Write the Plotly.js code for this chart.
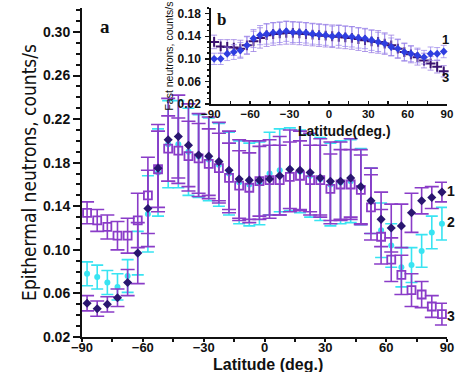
<!DOCTYPE html>
<html>
<head>
<meta charset="utf-8">
<script src="https://cdn.plot.ly/plotly-3.0.1.min.js"></script>
<style>html,body{margin:0;padding:0;background:#fff;}#chart{width:455px;height:372px;}</style>
</head>
<body>
<div id="chart"></div>
<script>
// Latitude bin centres (deg.)
const latitude = [-87.5,-82.5,-77.5,-72.5,-67.5,-62.5,-57.5,-52.5,-47.5,-42.5,-37.5,-32.5,-27.5,-22.5,-17.5,-12.5,-7.5,-2.5,
                  2.5,7.5,12.5,17.5,22.5,27.5,32.5,37.5,42.5,47.5,52.5,57.5,62.5,67.5,72.5,77.5,82.5,87.5];

// Panel a: epithermal neutrons, counts/s
const epi1 = [0.051,0.046,0.050,0.056,0.070,0.097,0.138,0.175,0.201,0.204,0.196,0.187,0.186,0.181,0.173,0.165,0.164,0.164,
              0.165,0.168,0.174,0.173,0.171,0.166,0.163,0.163,0.166,0.158,0.145,0.128,0.120,0.122,0.134,0.145,0.148,0.153];
const epi1Err = [0.007,0.007,0.007,0.008,0.012,0.028,0.035,0.040,0.038,0.038,0.038,0.038,0.036,0.036,0.036,0.036,0.036,0.036,
                 0.036,0.036,0.036,0.036,0.036,0.036,0.036,0.036,0.036,0.034,0.030,0.025,0.022,0.020,0.018,0.012,0.010,0.009];
const epi2 = [0.078,0.075,0.070,0.066,0.076,0.097,0.133,0.171,0.197,0.197,0.190,0.186,0.183,0.178,0.170,0.162,0.160,0.161,
              0.170,0.173,0.174,0.172,0.168,0.165,0.160,0.162,0.163,0.158,0.145,0.118,0.104,0.084,0.086,0.099,0.116,0.124];
const epi2Err = [0.011,0.011,0.011,0.012,0.015,0.020,0.035,0.040,0.040,0.040,0.040,0.038,0.038,0.038,0.038,0.038,0.038,0.038,
                 0.038,0.038,0.038,0.038,0.038,0.038,0.038,0.038,0.038,0.035,0.030,0.025,0.020,0.018,0.016,0.015,0.015,0.015];
const epi3 = [0.134,0.127,0.121,0.113,0.113,0.127,0.150,0.174,0.193,0.191,0.186,0.184,0.179,0.175,0.166,0.159,0.157,0.163,
              0.164,0.164,0.167,0.168,0.164,0.164,0.156,0.160,0.160,0.155,0.139,0.112,0.091,0.077,0.063,0.059,0.048,0.041];
const epi3Err = [0.010,0.010,0.011,0.013,0.016,0.025,0.035,0.035,0.030,0.030,0.032,0.032,0.032,0.032,0.032,0.032,0.032,0.032,
                 0.032,0.032,0.032,0.032,0.032,0.032,0.032,0.032,0.032,0.032,0.030,0.025,0.020,0.018,0.015,0.012,0.010,0.010];

// Panel b: fast neutrons, counts/s
const fast1 = [0.100,0.100,0.109,0.112,0.115,0.124,0.136,0.142,0.144,0.146,0.147,0.149,0.147,0.147,0.146,0.144,0.143,0.142,
               0.140,0.142,0.140,0.139,0.137,0.136,0.133,0.130,0.127,0.121,0.118,0.112,0.109,0.106,0.103,0.109,0.109,0.113];
const fast1Err = [0.010,0.010,0.012,0.013,0.014,0.015,0.016,0.017,0.018,0.018,0.018,0.018,0.018,0.018,0.018,0.018,0.018,0.018,
                  0.018,0.018,0.018,0.018,0.018,0.018,0.018,0.017,0.017,0.016,0.016,0.015,0.014,0.013,0.012,0.012,0.011,0.011];
const fast3 = [0.130,0.122,0.121,0.120,0.118,0.124,0.131,0.137,0.142,0.144,0.145,0.146,0.146,0.145,0.144,0.143,0.142,0.141,
               0.140,0.139,0.138,0.137,0.135,0.133,0.131,0.130,0.127,0.124,0.118,0.112,0.108,0.103,0.097,0.092,0.086,0.078];
const fast3Err = [0.012,0.012,0.013,0.014,0.015,0.016,0.018,0.018,0.020,0.020,0.020,0.020,0.020,0.020,0.020,0.020,0.020,0.020,
                  0.020,0.020,0.020,0.020,0.020,0.020,0.020,0.020,0.019,0.018,0.017,0.016,0.015,0.014,0.013,0.012,0.011,0.010];

const seriesLabels = ['1','2','3'];

const FONT = 'Liberation Sans, Arial, Helvetica, sans-serif';
const PURPLE = '#8a3cc8';
const NAVY = '#2a1670';
const CYAN = '#38e4f2';

function errY(arr, color, w, th){ return {type:'data', array:arr, visible:true, color:color, thickness:th, width:w}; }

const traces = [
  {x: latitude, y: epi2, type:'scatter', mode:'markers', xaxis:'x', yaxis:'y',
   marker:{symbol:'circle', size:6, color:CYAN}, error_y: errY(epi2Err, CYAN, 6, 1.6), showlegend:false, cliponaxis:false},
  {x: latitude, y: epi3, type:'scatter', mode:'markers', xaxis:'x', yaxis:'y',
   marker:{symbol:'square-open', size:8, color:PURPLE, line:{width:1.8, color:PURPLE}}, error_y: errY(epi3Err, PURPLE, 7, 1.6), showlegend:false, cliponaxis:false},
  {x: latitude, y: epi1, type:'scatter', mode:'markers', xaxis:'x', yaxis:'y',
   marker:{symbol:'diamond', size:7, color:NAVY}, error_y: errY(epi1Err, PURPLE, 7, 1.6), showlegend:false, cliponaxis:false},
  {x: latitude, y: fast3, type:'scatter', mode:'markers', xaxis:'x2', yaxis:'y2',
   marker:{symbol:'cross-thin-open', size:7, color:'#3a1270', line:{width:2, color:'#3a1270'}}, error_y: errY(fast3Err, 'rgba(150,120,225,0.75)', 3, 1), showlegend:false, cliponaxis:false},
  {x: latitude, y: fast1, type:'scatter', mode:'markers', xaxis:'x2', yaxis:'y2',
   marker:{symbol:'diamond', size:6, color:'#2f3ee0'}, error_y: errY(fast1Err, 'rgba(150,130,235,0.7)', 3, 1), showlegend:false, cliponaxis:false}
];

const layout = {
  width: 455, height: 372,
  margin: {l: 82, r: 8, t: 8, b: 35},
  paper_bgcolor: '#fff', plot_bgcolor: 'rgba(0,0,0,0)',
  font: {family: FONT, color: '#111'},
  showlegend: false,
  xaxis: {
    domain: [0, 1], range: [-90, 90], tickmode: 'linear', tick0: -90, dtick: 30,
    showgrid: false, zeroline: false, showline: true, linecolor: '#111', linewidth: 2,
    ticks: 'outside', ticklen: 3, tickwidth: 2, tickcolor: '#111',
    minor: {dtick: 15, tick0: -90, ticks: 'outside', ticklen: 3, tickwidth: 2, tickcolor: '#111', showgrid: false},
    tickfont: {family: FONT, size: 13, color: '#111', weight: 'bold'}, ticklabelstandoff: -6, ticklabeloverflow: 'allow'
  },
  yaxis: {
    domain: [0, 1], range: [0.02, 0.322], tickmode: 'linear', tick0: 0.02, dtick: 0.04, tickformat: '.2f',
    showgrid: false, zeroline: false, showline: true, linecolor: '#111', linewidth: 2,
    ticks: 'outside', ticklen: 7, tickwidth: 2, tickcolor: '#111',
    minor: {dtick: 0.01, tick0: 0.02, ticks: 'outside', ticklen: 4, tickwidth: 2, tickcolor: '#111', showgrid: false},
    tickfont: {family: FONT, size: 14, color: '#111', weight: 'bold'},
    title: {text: 'Epithermal neutrons, counts/s', font: {family: 'Liberation Sans Narrow, DejaVu Sans Condensed, Arial Narrow, sans-serif', size: 19, color: '#111'}, standoff: 1}
  },
  xaxis2: {
    anchor: 'y2', domain: [0.353, 1], range: [-90, 90], tickmode: 'linear', tick0: -90, dtick: 30,
    showgrid: false, zeroline: false, showline: true, linecolor: '#111', linewidth: 1.5,
    ticks: 'inside', ticklen: 3, tickwidth: 1.5, tickcolor: '#111',
    minor: {dtick: 15, tick0: -90, ticks: 'inside', ticklen: 3, tickwidth: 1.5, tickcolor: '#111', showgrid: false},
    tickfont: {family: FONT, size: 11.5, weight: 'bold', color: '#111'}, ticklabelstandoff: -1, ticklabeloverflow: 'allow'
  },
  yaxis2: {
    anchor: 'x2', domain: [0.708, 1], range: [0.02, 0.19], tickmode: 'linear', tick0: 0.02, dtick: 0.04, tickformat: '.2f',
    showgrid: false, zeroline: false, showline: true, linecolor: '#111', linewidth: 1.5,
    ticks: 'outside', ticklen: 4, tickwidth: 1.5, tickcolor: '#111',
    minor: {dtick: 0.01, tick0: 0.02, ticks: 'outside', ticklen: 2, tickwidth: 1.5, tickcolor: '#111', showgrid: false},
    tickfont: {family: FONT, size: 12, weight: 'bold', color: '#111'}, ticklabelstandoff: 2,
    title: {text: 'Fast neutrons, counts/s', font: {family: FONT, size: 10.5, color: '#111'}, standoff: 2}
  },
  annotations: [
    {text: 'Latitude (deg.)', xref: 'paper', yref: 'paper', x: 0.51, y: -0.085, xanchor: 'center', yanchor: 'middle', showarrow: false,
     font: {family: FONT, size: 16, weight: 'bold', color: '#111'}},
    {text: 'Latitude(deg.)', xref: 'paper', yref: 'paper', x: 0.72, y: 0.625, xanchor: 'center', yanchor: 'middle', showarrow: false,
     font: {family: FONT, size: 14, weight: 'bold', color: '#111'}},
    {text: 'a', xref: 'paper', yref: 'paper', x: 0.063, y: 0.945, xanchor: 'center', yanchor: 'middle', showarrow: false,
     font: {family: 'Liberation Serif, Times New Roman, serif', size: 19, weight: 'bold', color: '#111'}},
    {text: 'b', xref: 'paper', yref: 'paper', x: 0.383, y: 0.965, xanchor: 'center', yanchor: 'middle', showarrow: false,
     font: {family: 'Liberation Serif, Times New Roman, serif', size: 17, weight: 'bold', color: '#111'}},
    {text: seriesLabels[0], xref: 'paper', yref: 'paper', x: 1.0, y: 0.445, xanchor: 'left', yanchor: 'middle', showarrow: false, xshift: -2,
     font: {family: FONT, size: 14, weight: 'bold', color: '#111'}},
    {text: seriesLabels[1], xref: 'paper', yref: 'paper', x: 1.0, y: 0.35, xanchor: 'left', yanchor: 'middle', showarrow: false, xshift: -2,
     font: {family: FONT, size: 14, weight: 'bold', color: '#111'}},
    {text: seriesLabels[2], xref: 'paper', yref: 'paper', x: 1.0, y: 0.065, xanchor: 'left', yanchor: 'middle', showarrow: false, xshift: -2,
     font: {family: FONT, size: 14, weight: 'bold', color: '#111'}},
    {text: seriesLabels[0], xref: 'paper', yref: 'paper', x: 1.0, y: 0.905, xanchor: 'left', yanchor: 'middle', showarrow: false, xshift: -7,
     font: {family: FONT, size: 13, weight: 'bold', color: '#111'}},
    {text: seriesLabels[2], xref: 'paper', yref: 'paper', x: 1.0, y: 0.79, xanchor: 'left', yanchor: 'middle', showarrow: false, xshift: -7,
     font: {family: FONT, size: 13, weight: 'bold', color: '#111'}}
  ]
};

Plotly.newPlot('chart', traces, layout, {staticPlot: true, displayModeBar: false});
</script>
</body>
</html>
